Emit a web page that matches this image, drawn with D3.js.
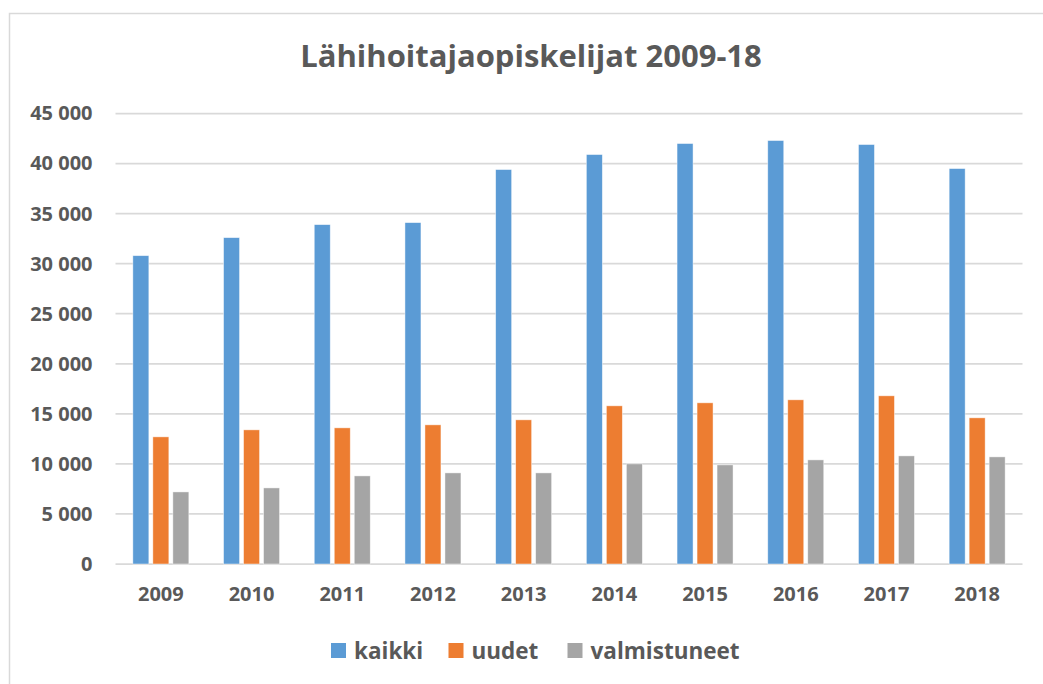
<!DOCTYPE html>
<html>
<head>
<meta charset="utf-8">
<script src="https://cdn.jsdelivr.net/npm/d3@7"></script>
<style>
  body { margin: 0; background: #fff; }
  text { font-family: "Open Sans", sans-serif; font-weight: bold; fill: #595959; }
</style>
</head>
<body>
<div id="chart"></div>
<script>
const years = ["2009", "2010", "2011", "2012", "2013", "2014", "2015", "2016", "2017", "2018"];
const seriesNames = ["kaikki", "uudet", "valmistuneet"];
const kaikki = [30800, 32600, 33900, 34100, 39400, 40900, 42000, 42300, 41900, 39500];
const uudet = [12700, 13400, 13600, 13900, 14400, 15800, 16100, 16400, 16800, 14600];
const valmistuneet = [7200, 7600, 8800, 9100, 9100, 10000, 9900, 10400, 10800, 10700];
const yTicks = [0, 5000, 10000, 15000, 20000, 25000, 30000, 35000, 40000, 45000];
const colors = ["#5B9BD5", "#ED7D31", "#A5A5A5"];

const seriesValues = [kaikki, uudet, valmistuneet];
const rows = years.map((y, i) => ({ year: y, values: seriesNames.map((s, j) => ({ key: s, value: seriesValues[j][i] })) }));

const width = 1043, height = 684;
const margin = { top: 113.5, right: 20.5, bottom: 120, left: 115.5 };

const svg = d3.select("#chart").append("svg")
    .attr("width", width)
    .attr("height", height);

// outer chart frame (only left & top edges are visible in the picture)
svg.append("path")
    .attr("d", `M9.5,${height} V13.5 H${width}`)
    .attr("fill", "none")
    .attr("stroke", "#d9d9d9")
    .attr("stroke-width", 1.5);

// title
svg.append("text")
    .attr("x", 531)
    .attr("y", 67)
    .attr("text-anchor", "middle")
    .style("font-size", "31px")
    .text("Lähihoitajaopiskelijat 2009-18");

const x = d3.scaleBand()
    .domain(years)
    .range([margin.left, width - margin.right]);

const xInner = d3.scaleBand()
    .domain(seriesNames)
    .range([-30, 30])
    .paddingInner(0.2)
    .paddingOuter(0.1);

const y = d3.scaleLinear()
    .domain([0, 45000])
    .range([height - margin.bottom, margin.top]);

// grid lines
svg.append("g")
    .selectAll("line")
    .data(yTicks)
    .join("line")
      .attr("x1", margin.left)
      .attr("x2", width - margin.right)
      .attr("y1", d => y(d))
      .attr("y2", d => y(d))
      .attr("stroke", "#d9d9d9")
      .attr("stroke-width", 1.75);

// y axis labels
const fmt = d => d3.format(",")(d).replace(/,/g, " ");
const yAxis = svg.append("g")
    .attr("transform", `translate(${margin.left},0)`)
    .call(d3.axisLeft(y).tickValues(yTicks).tickFormat(fmt).tickSize(0).tickPadding(23));
yAxis.select(".domain").remove();
yAxis.selectAll("text")
    .style("font-size", "20px")
    .attr("fill", "#595959");

// x axis labels
const xAxis = svg.append("g")
    .attr("transform", `translate(0,${height - margin.bottom})`)
    .call(d3.axisBottom(x).tickSize(0).tickPadding(23));
xAxis.select(".domain").remove();
xAxis.selectAll("text")
    .style("font-size", "20px")
    .attr("fill", "#595959");

// bars
svg.append("g")
    .selectAll("g")
    .data(rows)
    .join("g")
      .attr("transform", d => `translate(${x(d.year) + x.bandwidth() / 2},0)`)
    .selectAll("rect")
    .data(d => d.values)
    .join("rect")
      .attr("x", d => xInner(d.key))
      .attr("width", xInner.bandwidth())
      .attr("y", d => y(d.value))
      .attr("height", d => y(0) - y(d.value))
      .attr("fill", (d, i) => colors[i])
      .attr("stroke", "#fff")
      .attr("stroke-opacity", 0.6)
      .attr("stroke-width", 0.75);

// legend
const legendItems = [
  { name: seriesNames[0], x: 331 },
  { name: seriesNames[1], x: 448.5 },
  { name: seriesNames[2], x: 567.5 }
];
const legend = svg.append("g")
    .selectAll("g")
    .data(legendItems)
    .join("g")
      .attr("transform", d => `translate(${d.x},643)`);
legend.append("rect")
    .attr("width", 15)
    .attr("height", 15)
    .attr("fill", (d, i) => colors[i]);
legend.append("text")
    .attr("x", 23)
    .attr("y", 15.5)
    .style("font-size", "22.5px")
    .text(d => d.name);
</script>
</body>
</html>
